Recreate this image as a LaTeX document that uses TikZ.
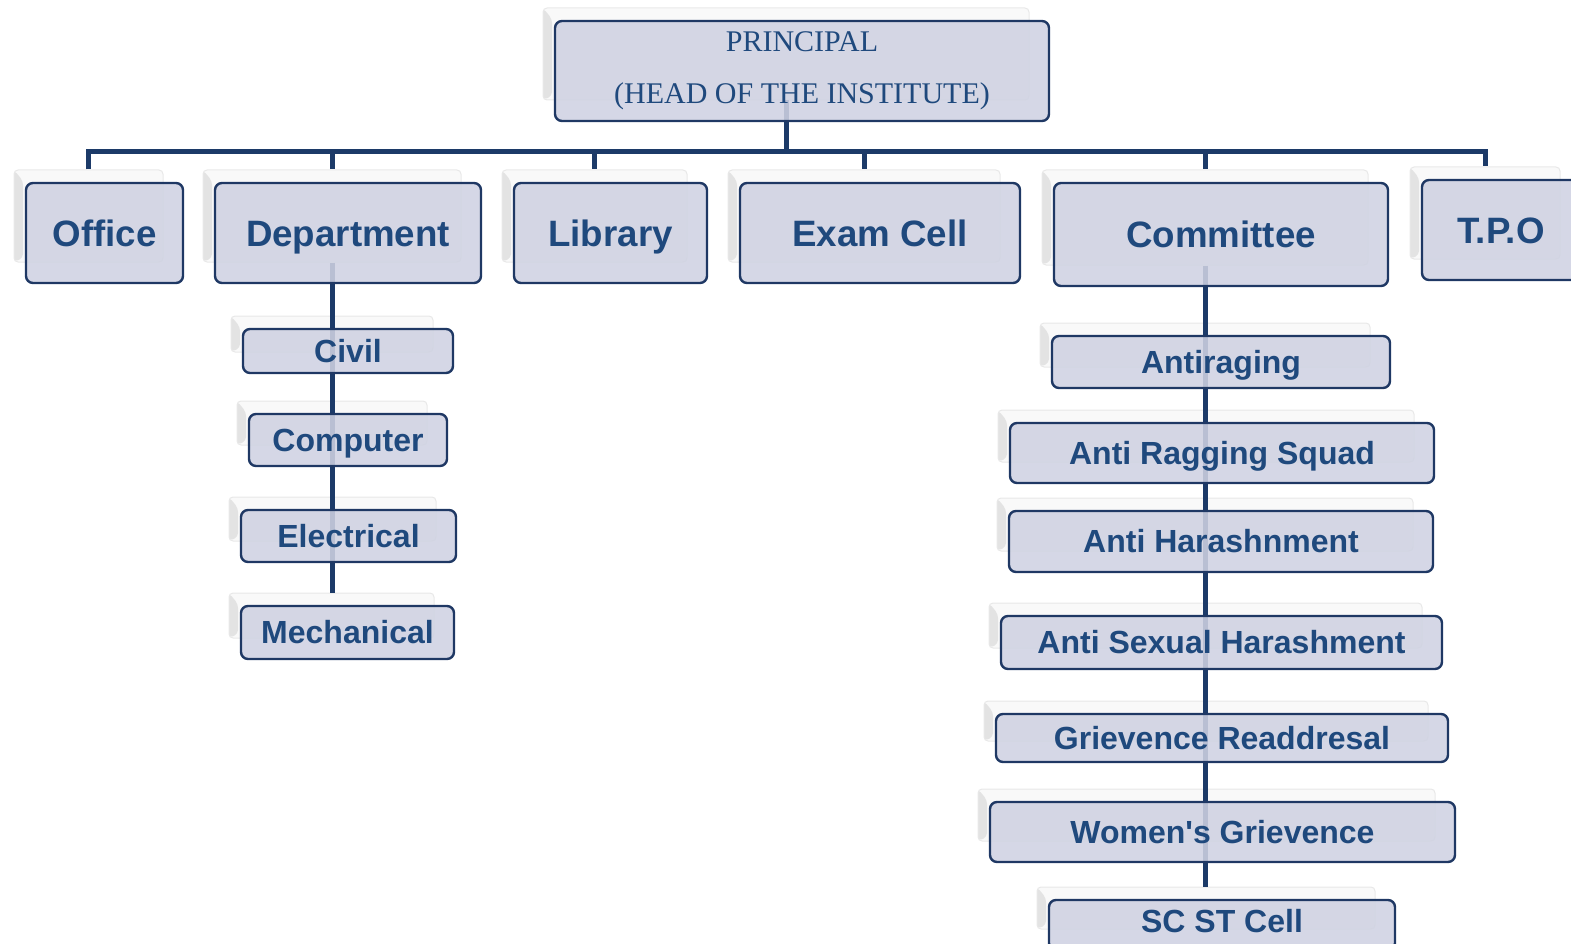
\documentclass[tikz,border=0pt]{standalone}
\usepackage{fontspec}
\setmainfont{Liberation Sans}
\newfontfamily\pfont{Liberation Serif}
\definecolor{boxfill}{RGB}{207,210,226}
\definecolor{boxline}{RGB}{31,56,100}
\definecolor{lineblue}{RGB}{28,58,104}
\definecolor{textblue}{RGB}{31,73,125}
\pgfdeclarelayer{ghostlayer}
\pgfdeclarelayer{linelayer}
\pgfsetlayers{ghostlayer,linelayer,main}
\tikzset{
  orgbox/.style={draw=boxline, line width=2.4pt, rounded corners=7pt, fill=boxfill,
    fill opacity=0.88, text opacity=1, text=textblue, inner sep=0pt},
  big/.style={font=\fontsize{36.7}{40}\selectfont\bfseries, text height=26.3pt, text depth=0pt},
  small/.style={font=\fontsize{32}{36}\selectfont\bfseries, text height=22.9pt, text depth=0pt},
  ptext/.style={font=\pfont\fontsize{30}{52}\selectfont, align=center},
  ghostbox/.style={draw=gray!18, line width=1pt, fill=gray!5, rounded corners=4pt, inner sep=0pt,
    path picture={\fill[gray!22] (path picture bounding box.north west)
      -- ([shift={(9,11)}]path picture bounding box.north west)
      -- ([shift={(9,-4)}]path picture bounding box.south west)
      -- (path picture bounding box.south west) -- cycle;}},
  conn/.style={draw=lineblue, line width=5pt, line join=miter}
}
\newcommand\orgbox[7]{%
  \begin{pgfonlayer}{ghostlayer}
    \node[ghostbox, minimum width={#4-#2-8}, minimum height={#5-#3-8}] (#1-g)
      at ({(#2+#4)/2-16},{(#3+#5)/2-17}) {};
  \end{pgfonlayer}
  \node[orgbox, #6, minimum width={#4-#2}, minimum height={#5-#3}] (#1)
    at ({(#2+#4)/2},{(#3+#5)/2}) {#7};
}
\begin{document}
\begin{tikzpicture}[x=1pt,y=-1pt]
\useasboundingbox (0,0) rectangle (1571,944);
\orgbox{principal}{555}{21}{1049}{121}{ptext}{PRINCIPAL\\(HEAD OF THE INSTITUTE)}
\orgbox{office}{26}{183}{183}{283}{big}{Office}
\orgbox{dept}{215}{183}{481}{283}{big}{Department}
\orgbox{library}{514}{183}{707}{283}{big}{Library}
\orgbox{exam}{740}{183}{1020}{283}{big}{Exam Cell}
\orgbox{committee}{1054}{183}{1388}{286}{big}{Committee}
\orgbox{tpo}{1422}{180}{1580}{280}{big}{T.P.O}
\orgbox{civil}{243}{329}{453}{373}{small}{Civil}
\orgbox{computer}{249}{414}{447}{466}{small}{Computer}
\orgbox{electrical}{241}{510}{456}{562}{small}{Electrical}
\orgbox{mech}{241}{606}{454}{659}{small}{Mechanical}
\orgbox{antiraging}{1052}{336}{1390}{388}{small}{Antiraging}
\orgbox{squad}{1010}{423}{1434}{483}{small}{Anti Ragging Squad}
\orgbox{harash}{1009}{511}{1433}{572}{small}{Anti Harashnment}
\orgbox{sexual}{1001}{616}{1442}{669}{small}{Anti Sexual Harashment}
\orgbox{grievence}{996}{714}{1448}{762}{small}{Grievence Readdresal}
\orgbox{women}{990}{802}{1455}{862}{small}{Women\textquotesingle s Grievence}
\orgbox{scst}{1049}{900}{1395}{950}{small, text depth=8pt}{SC ST Cell}
\begin{pgfonlayer}{linelayer}
  \coordinate (busy) at (785,152);
  \draw[conn] (principal-g.south) -- (principal-g.south |- busy);
  \draw[conn] (office-g.north) -- (office-g.north |- busy) -- (tpo-g.north |- busy) -- (tpo-g.north);
  \foreach \n in {dept,library,exam,committee}
    \draw[conn] (\n-g.north |- busy) -- (\n-g.north);
  \draw[conn] (dept-g.south) -- (dept-g.south |- mech-g.north);
  \draw[conn] (committee-g.south) -- (committee-g.south |- scst-g.north);
\end{pgfonlayer}
\end{tikzpicture}
\end{document}
